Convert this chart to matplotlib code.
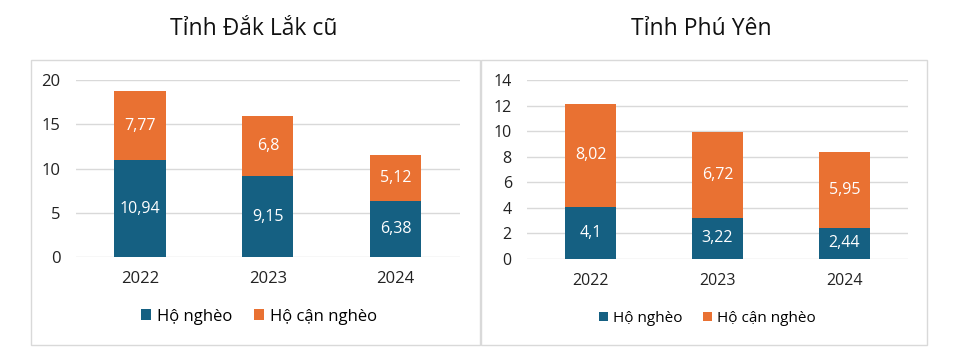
import matplotlib.pyplot as plt
from matplotlib.patches import Rectangle

plt.rcParams["font.family"] = ["Open Sans", "DejaVu Sans"]

years = ["2022", "2023", "2024"]
series_names = ["Hộ nghèo", "Hộ cận nghèo"]

daklak_ngheo = [10.94, 9.15, 6.38]
daklak_can_ngheo = [7.77, 6.8, 5.12]
phuyen_ngheo = [4.1, 3.22, 2.44]
phuyen_can_ngheo = [8.02, 6.72, 5.95]

BLUE = "#156082"
ORANGE = "#E97132"
GRID = "#d9d9d9"


def fmt(v):
    return f"{v:g}".replace(".", ",")


def draw_panel(fig, rect, box, title, title_x, ngheo, can_ngheo, ymax, ystep,
               legend_size, legend_xy, tick_size):
    fig.patches.append(Rectangle((box[0], box[1]), box[2], box[3], transform=fig.transFigure,
                                 fill=False, edgecolor=GRID, linewidth=1.0))
    fig.text(title_x, 0.92, title, ha="center", va="center", fontsize=16.5, color="#111111")
    ax = fig.add_axes(rect)
    x = range(len(years))
    b1 = ax.bar(x, ngheo, width=0.4, color=BLUE, label=series_names[0], zorder=3)
    b2 = ax.bar(x, can_ngheo, width=0.4, bottom=ngheo, color=ORANGE, label=series_names[1], zorder=3)
    ax.bar_label(b1, labels=[fmt(v) for v in ngheo], label_type="center", color="white", fontsize=11.5)
    ax.bar_label(b2, labels=[fmt(v) for v in can_ngheo], label_type="center", color="white", fontsize=11.5)
    ax.set_xlim(-0.5, len(years) - 0.5)
    ax.set_ylim(0, ymax)
    ax.set_yticks(range(0, ymax + 1, ystep))
    ax.set_xticks(list(x))
    ax.set_xticklabels(years)
    ax.yaxis.grid(True, color=GRID, linewidth=1.0, zorder=0)
    ax.tick_params(axis="both", length=0, labelsize=tick_size, colors="#222222")
    ax.tick_params(axis="x", pad=10)
    ax.tick_params(axis="y", pad=11)
    for s in ax.spines.values():
        s.set_visible(False)
    fig.legend(handles=[b1, b2], loc="center", bbox_to_anchor=legend_xy, ncol=2,
               frameon=False, fontsize=legend_size, handlelength=0.6, handleheight=0.6,
               handletextpad=0.35, columnspacing=1.3)
    return ax


fig = plt.figure(figsize=(9.69, 3.57), dpi=100)

draw_panel(fig, [0.0784, 0.280, 0.396, 0.496], [0.032, 0.0336, 0.4634, 0.798],
           "Tỉnh Đắk Lắk cũ", 0.262, daklak_ngheo, daklak_can_ngheo, 20, 5,
           12, (0.267, 0.113), 12)
draw_panel(fig, [0.544, 0.2745, 0.393, 0.501], [0.4964, 0.0336, 0.4603, 0.798],
           "Tỉnh Phú Yên", 0.724, phuyen_ngheo, phuyen_can_ngheo, 14, 2,
           11, (0.730, 0.108), 11.5)

fig.savefig("out.png", dpi=100)
